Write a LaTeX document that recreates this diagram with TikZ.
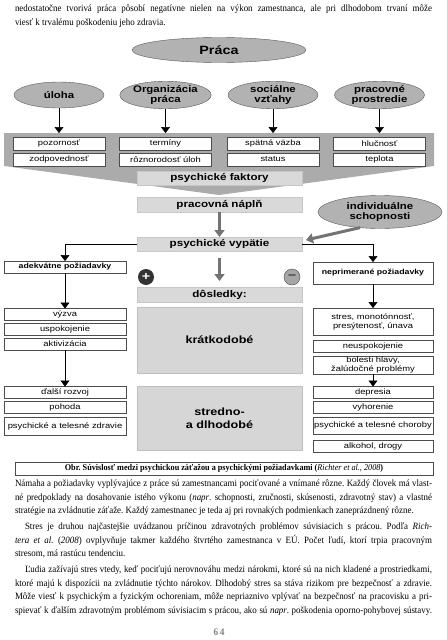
\documentclass[tikz,border=0pt]{standalone}
\usepackage{fontspec}
\setmainfont{Liberation Serif}[FakeStretch=0.93]
\newfontfamily\diagfont{Liberation Sans}[FakeStretch=1.2]
\usetikzlibrary{shapes.geometric,arrows.meta}
\frenchspacing
\newcommand{\jline}[1]{\makebox[417pt][s]{#1}}
\tikzset{
	every node/.style={inner sep=0pt, outer sep=0pt},
	itembox/.style={draw=black!70, fill=white, line width=0.5pt, minimum height=12, align=center, font=\diagfont\fontsize{7.8}{9}\selectfont},
	boldbox/.style={itembox, font=\diagfont\bfseries\fontsize{7.3}{9}\selectfont},
	bandbox/.style={draw=black!22, fill=black!15, minimum width=165, minimum height=15, font=\diagfont\bfseries\fontsize{9.7}{11}\selectfont},
	bigbox/.style={draw=black!25, fill=black!16, minimum width=165, align=center, font=\diagfont\bfseries\fontsize{10.5}{12.5}\selectfont},
	bubble/.style={ellipse, draw=black!65, fill=black!30, align=center, minimum width=90, minimum height=26, font=\diagfont\bfseries\fontsize{9.5}{10.5}\selectfont},
	thinarr/.style={-{Triangle[width=9pt,length=6pt]}, line width=0.5pt},
	grayarr/.style={-{Triangle[width=10pt,length=7pt]}, line width=3pt, draw=black!55},
	bodytext/.style={anchor=north west, align=left, font=\fontsize{9.6}{13.5}\selectfont},
}
\begin{document}
\begin{tikzpicture}[x=1pt,y=-1pt]
		\useasboundingbox[fill=white] (0,0) rectangle (447,640);

		\node[bodytext] (intro) at (15,5) {\jline{nedostatočne tvorivá práca pôsobí negatívne nielen na výkon zamestnanca, ale pri dlhodobom trvaní môže}\\
			viesť k trvalému poškodeniu jeho zdravia.};

		\node[bubble, minimum width=174, minimum height=25, font=\diagfont\bfseries\fontsize{12}{14}\selectfont] (praca) at (219,50) {Práca};

		\node[bubble] (uloha) at (59,95) {úloha};
		\node[bubble] (org) at (165.5,95) {Organizácia\\práca};
		\node[bubble] (soc) at (273,95) {sociálne\\vzťahy};
		\node[bubble] (prostr) at (379.5,95) {pracovné\\prostredie};

		\fill[black!33] (4,133) -- (434,133) -- (434,166) -- (219,195) -- (4,166) -- cycle;
		\coordinate (ftop) at (219,133);

		\draw[thinarr] (uloha.south) -- (uloha |- ftop);
		\draw[thinarr] (org.south) -- (org |- ftop);
		\draw[thinarr] (soc.south) -- (soc |- ftop);
		\draw[thinarr] (prostr.south) -- (prostr |- ftop);

		\node[itembox, minimum width=92, minimum height=13] (pozor) at (59,143.5) {pozornosť};
		\node[itembox, minimum width=92, minimum height=13] (zodp) at (59,159.5) {zodpovednosť};
		\node[itembox, minimum width=92, minimum height=13] (term) at (165.5,143.5) {termíny};
		\node[itembox, minimum width=92, minimum height=13] (rozn) at (165.5,159.5) {rôznorodosť úloh};
		\node[itembox, minimum width=92, minimum height=13] (spat) at (273,143.5) {spätná väzba};
		\node[itembox, minimum width=92, minimum height=13] (stat) at (273,159.5) {status};
		\node[itembox, minimum width=92, minimum height=13] (hluc) at (379.5,143.5) {hlučnosť};
		\node[itembox, minimum width=92, minimum height=13] (tepl) at (379.5,159.5) {teplota};

		\node[bandbox, minimum height=14] (faktory) at (219.5,178) {psychické faktory};
		\node[bandbox] (naplna) at (219.5,204.5) {pracovná náplň};
		\node[bandbox, minimum height=14] (vypatie) at (219.5,244) {psychické vypätie};
		\node[bubble, minimum width=124, minimum height=33] (indiv) at (380,212) {individuálne\\schopnosti};

		\draw[grayarr] (naplna) -- (vypatie);
		\coordinate (vyptip) at (306,240);
		\draw[grayarr] (indiv.218) -- (vyptip);

		\node[boldbox, minimum width=122] (adek) at (65,267) {adekvátne požiadavky};
		\node[boldbox, minimum width=120, minimum height=22] (neprim) at (373,273) {neprimerané požiadavky};
		\draw[thinarr] (vypatie.west) -| (adek.north);
		\draw[thinarr] (vypatie.east) -| (neprim.north);

		\node[circle, fill=black!80, minimum size=16, text=white, font=\diagfont\bfseries\fontsize{12}{12}\selectfont] (plus) at (146,277) {+};
		\node[circle, draw=black!70, fill=black!35, minimum size=16, text=black!75, font=\diagfont\bfseries\fontsize{12}{12}\selectfont] (minus) at (292,277) {−};
		\coordinate (dtop) at (219.5,258);
		\coordinate (dtip) at (219.5,281);
		\draw[grayarr] (dtop) -- (dtip);

		\node[bandbox] (dosl) at (219.5,294.5) {dôsledky:};
		\node[bigbox, minimum height=66] (kratko) at (219.5,340) {krátkodobé};
		\node[bigbox, minimum height=64] (stredno) at (219.5,418) {stredno-\\a dlhodobé};

		\node[itembox, minimum width=122] (vyzva) at (65,314.5) {výzva};
		\node[itembox, minimum width=122] (uspok) at (65,329) {uspokojenie};
		\node[itembox, minimum width=122] (aktiv) at (65,344) {aktivizácia};
		\node[itembox, minimum width=122] (rozvoj) at (65,392.5) {ďalší rozvoj};
		\node[itembox, minimum width=122] (pohoda) at (65,407) {pohoda};
		\node[itembox, minimum width=122, minimum height=18] (zdravie) at (65,426) {psychické a telesné zdravie};
		\draw[thinarr] (adek.south) -- (vyzva.north);
		\draw[thinarr] (aktiv.south) -- (rozvoj.north);

		\node[itembox, minimum width=120, minimum height=27] (stres) at (373,321.5) {stres, monotónnosť,\\presýtenosť, únava};
		\node[itembox, minimum width=120] (neusp) at (373,346) {neuspokojenie};
		\node[itembox, minimum width=120, minimum height=18] (bolesti) at (373,365) {bolesti hlavy,\\žalúdočné problémy};
		\node[itembox, minimum width=120] (depr) at (373,392.5) {depresia};
		\node[itembox, minimum width=120] (vyhor) at (373,407.5) {vyhorenie};
		\node[itembox, minimum width=120, minimum height=17] (choroby) at (373,425.5) {psychické a telesné choroby};
		\node[itembox, minimum width=120] (alkohol) at (373,446) {alkohol, drogy};
		\draw[thinarr] (neprim.south) -- (stres.north);
		\draw[thinarr] (bolesti.south) -- (depr.north);

		\node[draw=black!70, line width=0.6pt, minimum width=418, minimum height=13, font=\bfseries\fontsize{8.8}{10}\selectfont] (caption) at (224,468.5) {Obr. Súvislosť medzi psychickou záťažou a psychickými požiadavkami (\textnormal{\textit{Richter et al., 2008}})};

		\node[bodytext] (para1) at (15,480) {\jline{Námaha a požiadavky vyplývajúce z práce sú zamestnancami pociťované a vnímané rôzne. Každý človek má vlast-}\\
			\jline{né predpoklady na dosahovanie istého výkonu (\textit{napr}. schopnosti, zručnosti, skúsenosti, zdravotný stav) a vlastné}\\
			stratégie na zvládnutie záťaže. Každý zamestnanec je teda aj pri rovnakých podmienkach zaneprázdnený rôzne.};
		\node[bodytext] (para2) at (15,523) {\jline{\hspace*{10pt}Stres je druhou najčastejšie uvádzanou príčinou zdravotných problémov súvisiacich s prácou. Podľa \textit{Rich-}}\\
			\jline{\textit{tera et al.} (\textit{2008}) ovplyvňuje takmer každého štvrtého zamestnanca v EÚ. Počet ľudí, ktorí trpia pracovným}\\
			stresom, má rastúcu tendenciu.};
		\node[bodytext] (para3) at (15,566) {\jline{\hspace*{10pt}Ľudia zažívajú stres vtedy, keď pociťujú nerovnováhu medzi nárokmi, ktoré sú na nich kladené a prostriedkami,}\\
			\jline{ktoré majú k dispozícii na zvládnutie týchto nárokov. Dlhodobý stres sa stáva rizikom pre bezpečnosť a zdravie.}\\
			\jline{Môže viesť k psychickým a fyzickým ochoreniam, môže nepriaznivo vplývať na bezpečnosť na pracovisku a pri-}\\
			\jline{spievať k ďalším zdravotným problémom súvisiacim s prácou, ako sú \textit{napr}. poškodenia oporno-pohybovej sústavy.}};

		\node[text=black!50, font=\bfseries\fontsize{10}{12}\selectfont] (pagenum) at (219,632) {6\,4};
\end{tikzpicture}
\end{document}
